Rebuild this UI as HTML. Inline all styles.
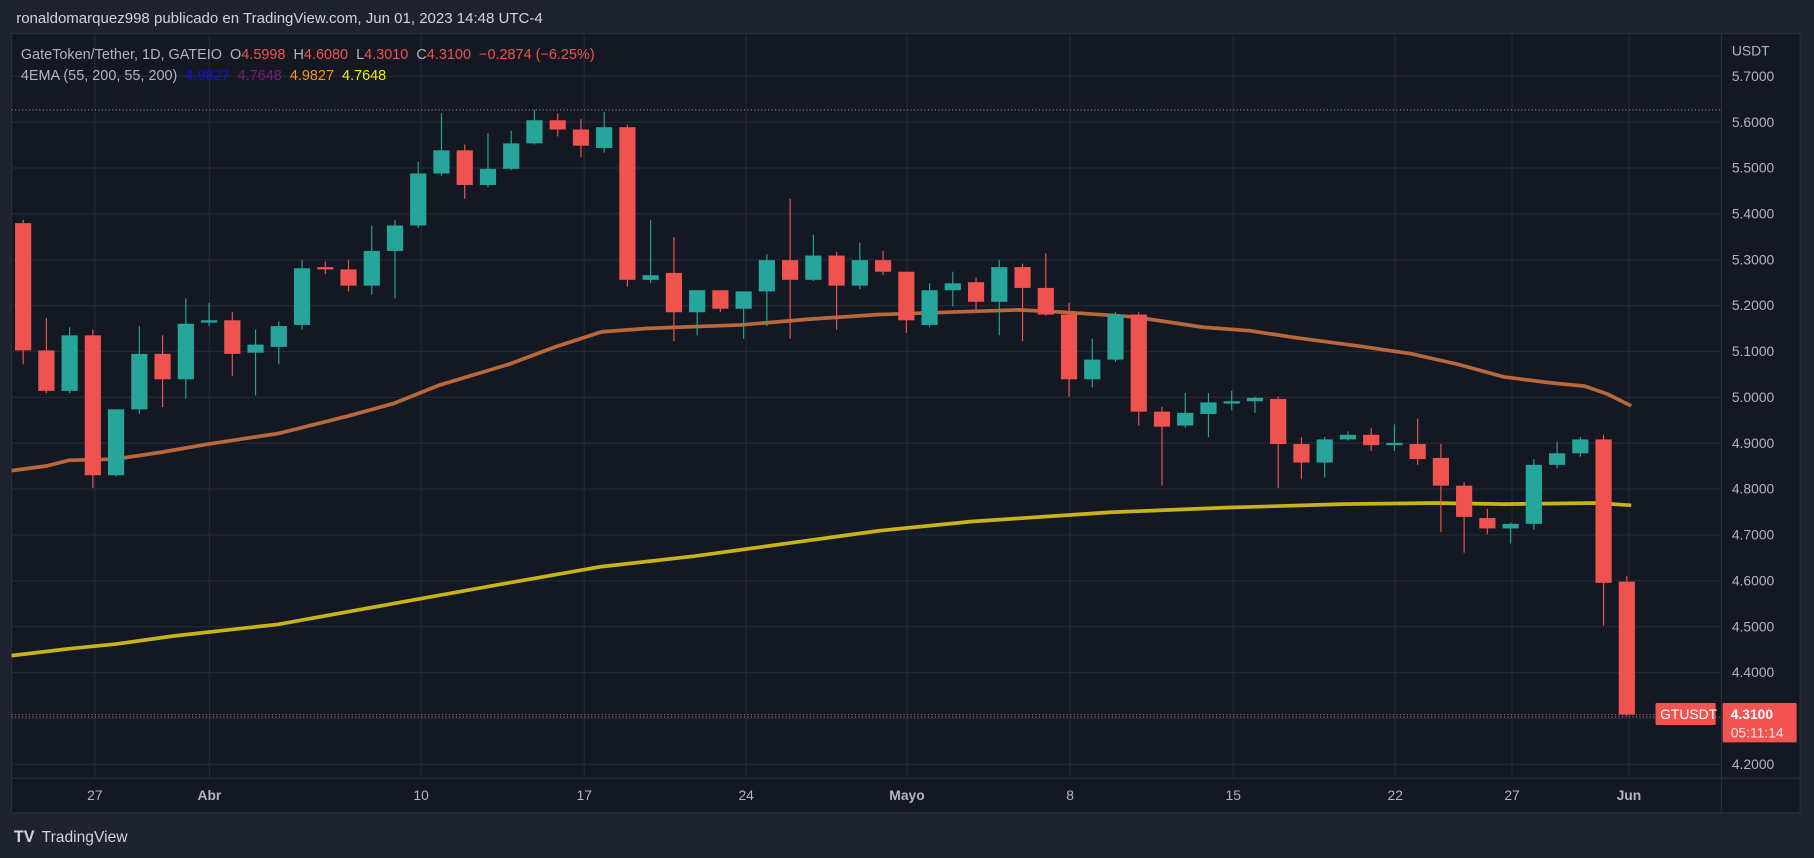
<!DOCTYPE html><html><head><meta charset="utf-8"><style>html,body{margin:0;padding:0;background:#1f2330;overflow:hidden}svg{display:block}text{font-family:"Liberation Sans",sans-serif;white-space:pre}</style></head><body>
<svg id="s" width="1814" height="858" viewBox="0 0 1568 742" preserveAspectRatio="none" xmlns="http://www.w3.org/2000/svg" xml:space="preserve">
<rect width="1568" height="742" fill="#1f2330"/>
<rect x="10" y="29" width="1546" height="674" fill="#141823" stroke="#2a2e39"/>
<g id="grid" stroke="#242833" stroke-width="1"></g>
<line x1="1488" y1="29" x2="1488" y2="703" stroke="#2a2e39"/>
<line x1="10" y1="673" x2="1556" y2="673" stroke="#2a2e39"/>
<line x1="10" y1="95" x2="1488" y2="95" stroke="#9598a1" stroke-dasharray="1,2" stroke-width="0.8"/>
<line x1="10" y1="620" x2="1488" y2="620" stroke="#9598a1" stroke-dasharray="1,2" stroke-width="0.8"/>
<line x1="10" y1="618" x2="1430" y2="618" stroke="#f05350" stroke-dasharray="1,2" stroke-width="0.8"/>
<g id="ema"></g>
<g id="c"></g>
<g id="lbl" fill="#b2b5be" font-size="12"></g>
<text x="14" y="20" fill="#d1d4dc" font-size="13">ronaldomarquez998 publicado en TradingView.com, Jun 01, 2023 14:48 UTC-4</text>
<text x="18" y="51" font-size="12.5" fill="#b2b5be">GateToken/Tether, 1D, GATEIO  O<tspan fill="#f05350">4.5998</tspan>  H<tspan fill="#f05350">4.6080</tspan>  L<tspan fill="#f05350">4.3010</tspan>  C<tspan fill="#f05350">4.3100</tspan>  <tspan fill="#f05350">−0.2874 (−6.25%)</tspan></text>
<text x="18" y="69" font-size="12.5" fill="#b2b5be">4EMA (55, 200, 55, 200)  <tspan fill="#1010e0">4.9827</tspan>  <tspan fill="#7b1a7b">4.7648</tspan>  <tspan fill="#f7931a">4.9827</tspan>  <tspan fill="#f0f000">4.7648</tspan></text>
<text x="1497" y="48" font-size="12" fill="#b2b5be">USDT</text>
<rect x="1431" y="608" width="52" height="19" rx="1" fill="#f05350"/>
<text x="1435" y="622" font-size="12" fill="#fff">GTUSDT</text>
<rect x="1489" y="608" width="64" height="34" rx="1" fill="#f05350"/>
<text x="1496" y="622" font-size="12" fill="#fff" font-weight="bold">4.3100</text>
<text x="1496" y="638" font-size="12" fill="#fde0df">05:11:14</text>
<text x="12" y="728" font-size="14" fill="#d1d4dc" font-weight="bold">TV</text>
<text x="36" y="728" font-size="13.5" fill="#d1d4dc">TradingView</text>
</svg>
<script>
const NS="http://www.w3.org/2000/svg";
function el(t,a,p){const e=document.createElementNS(NS,t);for(const k in a)e.setAttribute(k,a[k]);if(p)p.appendChild(e);return e;}
const Y=p=>661-(p-4.2)*396.7;
const g=document.getElementById('grid'),L=document.getElementById('lbl');
for(let i=0;i<16;i++){const p=4.2+i*0.1,y=Y(p);el('line',{x1:10,x2:1488,y1:y,y2:y},g);if(i!=1){const t=el('text',{x:1497,y:y+4},L);t.textContent=p.toFixed(4);}}
const xs=[[82,'27'],[181,'Abr'],[364,'10'],[505,'17'],[645,'24'],[784,'Mayo'],[925,'8'],[1066,'15'],[1206,'22'],[1307,'27'],[1408,'Jun']];
xs.forEach(([x,s])=>{el('line',{x1:x,x2:x,y1:29,y2:673},g);const t=el('text',{x:x,y:692,'text-anchor':'middle','font-weight':(isNaN(s)?'bold':'normal')},L);t.textContent=s;});
const d=[[193,303,190,315],[303,338,275,340],[338,290,283,340],[290,411,285,422],[411,354,354,412],[354,306,282,358],[306,328,290,352],[328,280,258,345],[279,277,262,282],[277,306,270,325],[305,298,285,342],[300,282,278,315],[281,232,225,285],[231,233,226,237],[233,247,225,252],[247,217,195,255],[217,195,190,258],[195,150,140,197],[150,130,98,152],[130,160,125,172],[160,146,115,162],[146,124,113,147],[124,104,95,125],[104,112,98,118],[112,126,103,136],[128,110,97,132],[110,242,108,248],[242,238,190,245],[236,270,205,295],[270,251,251,290],[251,267,251,270],[267,252,252,293],[252,225,220,282],[225,242,172,293],[242,221,203,243],[221,247,218,285],[247,225,210,250],[225,235,217,238],[235,277,235,288],[281,251,245,283],[251,245,235,265],[244,261,240,268],[261,231,225,290],[231,249,228,295],[249,272,219,273],[272,328,262,343],[328,311,293,335],[311,272,270,313],[272,356,270,368],[356,369,352,420],[368,357,340,370],[358,348,340,378],[349,347,338,355],[347,344,343,357],[345,384,343,422],[384,400,378,414],[400,380,378,413],[380,376,373,381],[376,385,370,390],[385,383,367,390],[384,397,362,402],[396,420,384,460],[420,447,417,478],[448,457,440,462],[457,453,452,470],[453,402,397,458],[402,392,382,405],[392,380,378,395],[380,504,376,541],[503,618,498,619]];
const C=document.getElementById('c');
d.forEach((c,i)=>{const x=20+i*20.09;const up=c[1]<c[0];const col=up?'#26a69a':'#ef5350';
el('line',{x1:x,x2:x,y1:c[2],y2:c[3],stroke:col,'stroke-width':1},C);
const t=Math.min(c[0],c[1]),h=Math.max(2,Math.abs(c[0]-c[1]));el('rect',{x:x-7,y:t,width:14,height:h,fill:col},C);});
const E=document.getElementById('ema');
const br=[[10,407],[40,403],[60,398],[100,397],[140,391],[180,384],[240,375],[300,360],[340,349],[380,333],[440,315],[480,300],[520,287],[560,284],[640,281],[700,276],[760,272],[820,270],[880,268],[920,270],[980,274],[1040,283],[1080,286],[1120,292],[1180,300],[1220,306],[1260,315],[1300,326],[1340,331],[1370,334],[1390,341],[1410,351]];
const ye=[[10,567],[60,561],[100,557],[150,550],[240,540],[340,522],[440,504],[520,490],[600,481],[680,470],[760,459],[840,451],[900,447],[960,443],[1060,439],[1160,436],[1240,435],[1300,436],[1380,435],[1410,437]];
el('polyline',{points:br.map(p=>p.join(',')).join(' '),fill:'none',stroke:'#b8683a','stroke-width':3.2},E);
el('polyline',{points:ye.map(p=>p.join(',')).join(' '),fill:'none',stroke:'#c8b41a','stroke-width':3.2},E);
</script>
</body></html>
